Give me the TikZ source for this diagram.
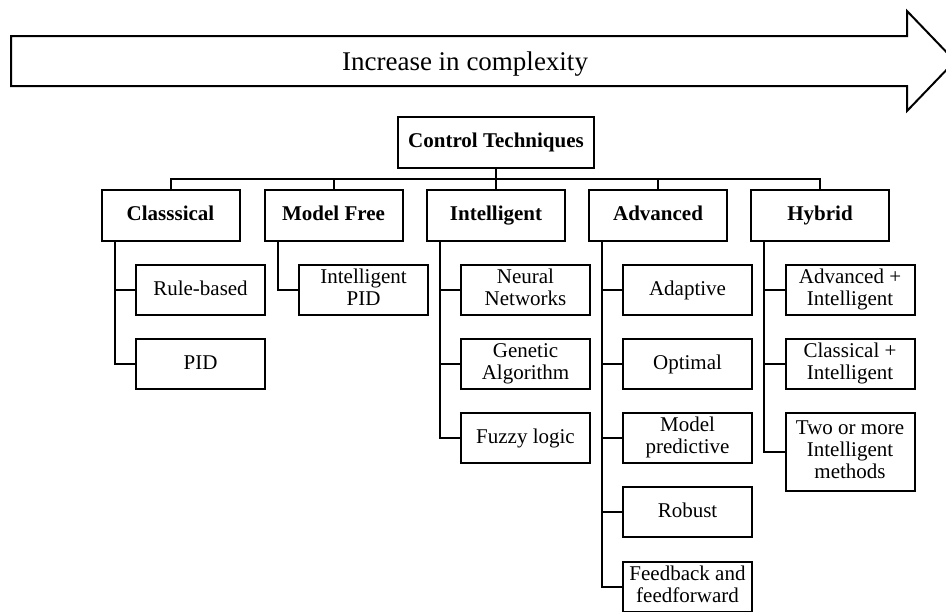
\documentclass[tikz,border=0pt]{standalone}
\usepackage{fontspec}
\setmainfont{Liberation Serif}
\usepackage{tikz}
\usetikzlibrary{positioning, calc}

\newcommand{\boxstrut}{\rule[-2.5pt]{0pt}{10pt}}

\begin{document}
\begin{tikzpicture}[
  x=0.5pt, y=-0.5pt,
  cat/.style={draw, line width=1pt, minimum width=69pt, minimum height=25.5pt,
              inner sep=1pt, align=center, font=\fontsize{10.5}{11}\selectfont\bfseries,
              execute at begin node=\boxstrut, execute at end node=\boxstrut},
  item/.style={draw, line width=1pt, minimum width=64.5pt, minimum height=25pt,
               inner sep=1pt, align=center, font=\fontsize{10.5}{11}\selectfont,
               execute at begin node=\boxstrut, execute at end node=\boxstrut},
  link/.style={line width=1pt},
]
  \useasboundingbox (0,0) rectangle (946,611);

  % big arrow
  \draw[line width=1pt] (11,36) -- (907,36) -- (907,11) -- (955,61) -- (907,111)
    -- (907,86) -- (11,86) -- cycle;
  \node[font=\fontsize{13.5}{15}\selectfont] (cplx) at (465,64) {Increase in complexity};

  \node[cat, minimum width=98pt] (root) at (496,142) {Control Techniques};

  \node[cat] (cls) at (170.5,215.5) {Classsical};
  \node[cat] (mfr) at (333.5,215.5) {Model Free};
  \node[cat] (int) at (496,215.5) {Intelligent};
  \node[cat] (adv) at (658,215.5) {Advanced};
  \node[cat] (hyb) at (820,215.5) {Hybrid};

  \coordinate (bus) at (496,179);
  \foreach \c in {cls,mfr,int,adv,hyb}
    \draw[link] (root.south) -- (bus) -| (\c.north);

  \node[item] (rule) at (200.5,290) {Rule-based};
  \node[item] (pid)  at (200.5,364) {PID};

  \node[item] (ipid) at (363.5,290) {Intelligent\\PID};

  \node[item] (nn)   at (525.5,290) {Neural\\Networks};
  \node[item] (ga)   at (525.5,364) {Genetic\\Algorithm};
  \node[item] (fuzz) at (525.5,438) {Fuzzy logic};

  \node[item] (adap) at (687.5,290) {Adaptive};
  \node[item] (opt)  at (687.5,364) {Optimal};
  \node[item] (mpc)  at (687.5,438) {Model\\predictive};
  \node[item] (rob)  at (687.5,512) {Robust};
  \node[item] (ff)   at (687.5,587) {Feedback and\\feedforward};

  \node[item] (ai)   at (850,290) {Advanced +\\Intelligent};
  \node[item] (ci)   at (850,364) {Classical +\\Intelligent};
  \node[item, minimum height=39pt] (two) at (850,452) {Two or more\\Intelligent\\methods};

  % branches
  \foreach \c/\k in {cls/rule, cls/pid, mfr/ipid, int/nn, int/ga, int/fuzz,
                     adv/adap, adv/opt, adv/mpc, adv/rob, adv/ff,
                     hyb/ai, hyb/ci, hyb/two}
    \draw[link] ([xshift=7pt]\c.south west) |- (\k.west);
\end{tikzpicture}
\end{document}
